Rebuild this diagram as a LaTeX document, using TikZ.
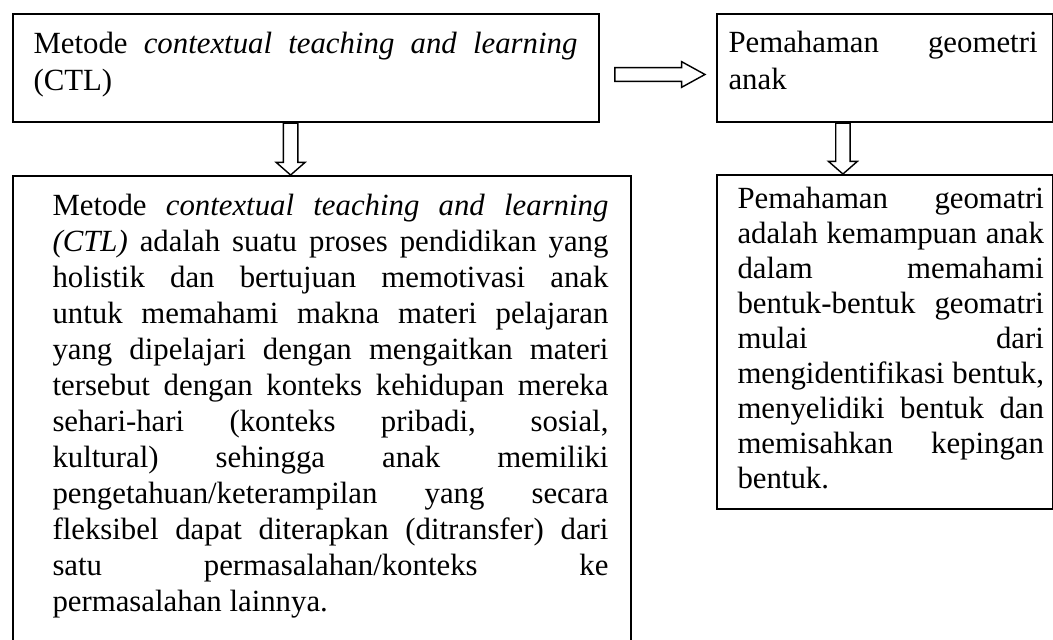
\documentclass[tikz,border=0pt]{standalone}
\usepackage{fontspec}
\setmainfont{Liberation Serif}
\tolerance=10000
\hbadness=10000
\hyphenpenalty=10000
\exhyphenpenalty=10000

\tikzset{
  box/.style={draw, line width=0.8pt, inner sep=0pt, anchor=north west},
  txt/.style={anchor=base west, inner sep=0pt, align=justify},
  darrow/.style={draw, line width=0.55pt,
    to path={([xshift=-2.8pt]\tikztostart) -- ([xshift=-2.8pt,yshift=4.9pt]\tikztotarget)
      -- ([xshift=-5.6pt,yshift=4.9pt]\tikztotarget) -- (\tikztotarget)
      -- ([xshift=5.6pt,yshift=4.9pt]\tikztotarget) -- ([xshift=2.8pt,yshift=4.9pt]\tikztotarget)
      -- ([xshift=2.8pt]\tikztostart) -- cycle}},
  rarrow/.style={draw, line width=0.55pt,
    to path={([yshift=2.7pt]\tikztostart) -- ([xshift=-9.1pt,yshift=2.7pt]\tikztotarget)
      -- ([xshift=-9.1pt,yshift=5pt]\tikztotarget) -- (\tikztotarget)
      -- ([xshift=-9.1pt,yshift=-5pt]\tikztotarget) -- ([xshift=-9.1pt,yshift=-2.7pt]\tikztotarget)
      -- ([yshift=-2.7pt]\tikztostart) -- cycle}}
}

\begin{document}
\begin{tikzpicture}[x=0.3896pt, y=-0.3896pt]
\useasboundingbox (0,0) rectangle (1053,639);
% boxes
\node [box, minimum width=228.3pt, minimum height=42.1pt] (ctl) at (12,13) {};
\node [box, minimum width=130.9pt, minimum height=42.1pt] (geo) at (716,13) {};
\node [box, minimum width=240.8pt, minimum height=204.5pt] (ctldef) at (12,175) {};
\node [box, minimum width=130.9pt, minimum height=130.1pt] (geodef) at (716,174) {};
% texts
\node [txt, text width=211.9pt, font=\fontsize{12pt}{14.3pt}\selectfont] (ctltxt) at (33,53.3)
  {Metode \textit{contextual teaching and learning}\linebreak (CTL)};
\node [txt, text width=120.4pt, font=\fontsize{12pt}{14.3pt}\selectfont] (geotxt) at (728,52.5)
  {Pemahaman geometri\linebreak anak};
\node [txt, text width=216.6pt, font=\fontsize{12pt}{14.03pt}\selectfont] (ctldeftxt) at (52,215)
  {Metode \textit{contextual teaching and learning}\linebreak
   \textit{(CTL)} adalah suatu proses pendidikan yang\linebreak
   holistik dan bertujuan memotivasi anak\linebreak
   untuk memahami makna materi pelajaran\linebreak
   yang dipelajari dengan mengaitkan materi\linebreak
   tersebut dengan konteks kehidupan mereka\linebreak
   sehari-hari (konteks pribadi, sosial,\linebreak
   kultural) sehingga anak memiliki\linebreak
   pengetahuan/keterampilan yang secara\linebreak
   fleksibel dapat diterapkan (ditransfer) dari\linebreak
   satu permasalahan/konteks ke\linebreak
   permasalahan lainnya.};
\node [txt, text width=119.4pt, font=\fontsize{12pt}{13.64pt}\selectfont] (geodeftxt) at (737,208)
  {Pemahaman geomatri\linebreak
   adalah kemampuan anak\linebreak
   dalam memahami\linebreak
   bentuk-bentuk geomatri\linebreak
   mulai dari\linebreak
   mengidentifikasi bentuk,\linebreak
   menyelidiki bentuk dan\linebreak
   memisahkan kepingan\linebreak
   bentuk.};
% arrows
\draw [rarrow] ([xshift=5.8pt,yshift=-2.5pt]ctl.east) to ([xshift=-4.3pt,yshift=-2.5pt]geo.west);
\draw [darrow] ([xshift=-6pt]ctl.south) to ([xshift=-6pt]ctl.south |- ctldef.north);
\draw [darrow] ([xshift=-16.4pt]geo.south) to ([xshift=-16.4pt]geo.south |- geodef.north);
\end{tikzpicture}
\end{document}
